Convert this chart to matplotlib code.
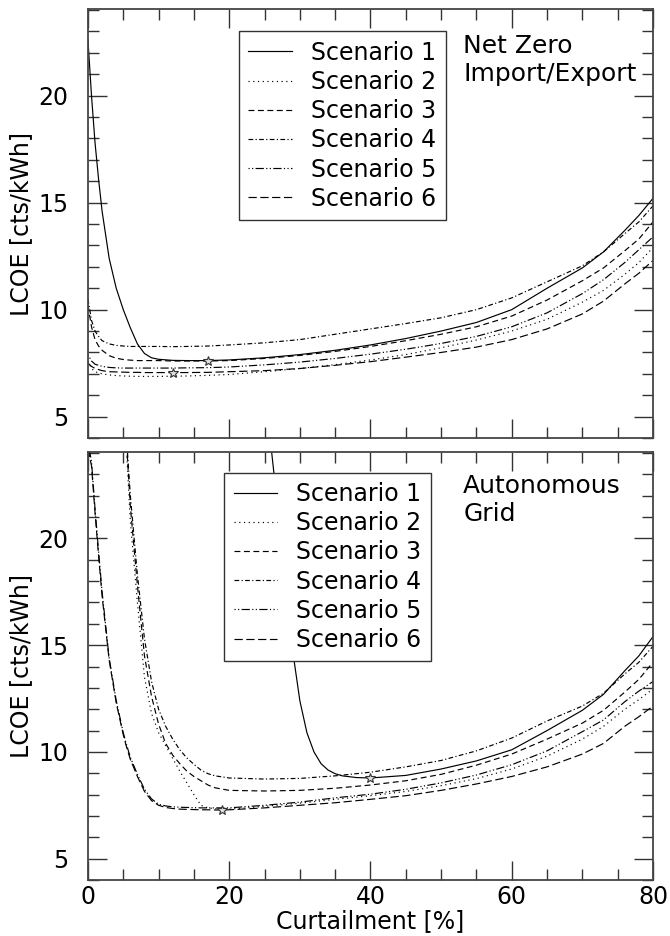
import numpy as np
import matplotlib.pyplot as plt
from matplotlib.ticker import MultipleLocator

# curtailment grid [%] for the upper panel (net zero import/export)
x_top = [0, 0.5, 1, 1.5, 2, 3, 4, 5, 6, 7, 8, 9, 10, 12, 14, 17, 20, 25, 30, 35,
         40, 45, 50, 55, 60, 65, 70, 73, 76, 78, 80]
top_s1 = [22.6, 20.0, 17.8, 16.1, 14.6, 12.4, 11.0, 10.0, 9.15, 8.4, 7.95, 7.75, 7.68, 7.63,
          7.62, 7.62, 7.65, 7.75, 7.9, 8.1, 8.35, 8.65, 9.0, 9.4, 10.0, 11.0, 11.95, 12.7,
          13.7, 14.4, 15.2]
top_s2 = [7.6, 7.25, 7.1, 7.05, 7.0, 6.95, 6.92, 6.9, 6.89, 6.88, 6.88, 6.88, 6.88, 6.89,
          6.9, 6.93, 6.97, 7.1, 7.25, 7.43, 7.65, 7.9, 8.22, 8.58, 9.0, 9.55, 10.35, 10.9,
          11.65, 12.2, 12.9]
top_s3 = [10.2, 9.2, 8.6, 8.3, 8.1, 7.85, 7.73, 7.67, 7.64, 7.62, 7.62, 7.62, 7.62, 7.6,
          7.6, 7.6, 7.62, 7.72, 7.86, 8.05, 8.28, 8.55, 8.85, 9.2, 9.7, 10.45, 11.35, 11.95,
          12.75, 13.3, 14.1]
top_s4 = [10.5, 9.5, 9.0, 8.75, 8.55, 8.4, 8.33, 8.3, 8.28, 8.28, 8.28, 8.28, 8.28, 8.27,
          8.28, 8.3, 8.35, 8.45, 8.6, 8.85, 9.1, 9.35, 9.62, 10.0, 10.55, 11.3, 12.05,
          12.7, 13.55, 14.1, 14.85]
top_s5 = [7.9, 7.6, 7.45, 7.4, 7.35, 7.3, 7.28, 7.27, 7.27, 7.27, 7.27, 7.27, 7.27, 7.27,
          7.28, 7.29, 7.32, 7.42, 7.55, 7.72, 7.92, 8.15, 8.42, 8.75, 9.2, 9.85, 10.75, 11.4,
          12.2, 12.8, 13.4]
top_s6 = [7.5, 7.35, 7.25, 7.2, 7.15, 7.1, 7.09, 7.08, 7.07, 7.07, 7.06, 7.06, 7.06, 7.06,
          7.06, 7.07, 7.1, 7.15, 7.25, 7.4, 7.57, 7.78, 8.0, 8.25, 8.6, 9.1, 9.8, 10.4,
          11.2, 11.7, 12.3]

# lower panel (autonomous grid)
x_bot = [0, 0.5, 1, 1.5, 2, 3, 4, 5, 5.4, 6, 7, 8, 9, 10, 11, 12, 13, 14, 15, 16, 17, 18,
         20, 25, 30, 35, 40, 45, 50, 55, 60, 65, 70, 73, 76, 78, 80]
nan = np.nan
bot_s2 = [nan] * 8 + [24.5, 20.8, 17.0, 13.5, 11.8, 10.9, 10.3, 9.7, 9.1, 8.55, 8.0, 7.5,
                      7.38, 7.34, 7.32, 7.45, 7.6, 7.78, 7.95, 8.15, 8.42, 8.75, 9.2, 9.8,
                      10.6, 11.2, 12.0, 12.45, 12.95]
bot_s3 = [nan] * 8 + [24.8, 21.5, 17.8, 14.5, 12.6, 11.3, 10.4, 9.85, 9.45, 9.1, 8.85, 8.65,
                      8.45, 8.32, 8.2, 8.17, 8.2, 8.3, 8.45, 8.65, 8.95, 9.38, 9.9, 10.6,
                      11.35, 11.95, 12.8, 13.4, 14.2]
bot_s4 = [nan] * 8 + [25.0, 22.0, 18.3, 15.3, 13.3, 12.0, 11.2, 10.6, 10.1, 9.72, 9.42, 9.15,
                      8.98, 8.88, 8.78, 8.73, 8.76, 8.88, 9.05, 9.3, 9.6, 10.05, 10.65, 11.45,
                      12.15, 12.75, 13.65, 14.2, 14.95]
bot_s5 = [24.5, 23.6, 21.4, 19.4, 17.5, 14.4, 12.4, 10.9, 10.4, 9.75, 8.95, 8.25, 7.8, 7.55,
          7.47, 7.43, 7.41, 7.4, 7.39, 7.38, 7.38, 7.38, 7.38, 7.5, 7.65, 7.85, 8.02, 8.25,
          8.55, 8.92, 9.4, 10.05, 10.95, 11.5, 12.35, 12.85, 13.3]
bot_s6 = [24.2, 23.4, 21.2, 19.2, 17.3, 14.3, 12.3, 10.8, 10.3, 9.65, 8.85, 8.15, 7.72, 7.5,
          7.4, 7.35, 7.32, 7.31, 7.3, 7.29, 7.29, 7.28, 7.29, 7.38, 7.5, 7.62, 7.78, 7.95,
          8.2, 8.5, 8.85, 9.3, 9.9, 10.4, 11.2, 11.65, 12.15]
x_bot_s1 = [25.5, 27, 28, 29, 30, 31, 32, 33, 34, 35, 36, 38, 40, 45, 50, 55, 60, 65, 70,
            73, 76, 78, 80]
bot_s1 = [25.6, 21.0, 17.9, 14.7, 12.4, 10.9, 10.0, 9.45, 9.15, 8.98, 8.88, 8.8, 8.78, 8.9,
          9.2, 9.58, 10.1, 11.0, 11.95, 12.7, 13.8, 14.5, 15.4]

# optimum markers
opt_top_x = [17, 12]
opt_top_y = [7.62, 7.06]
opt_bot_x = [40, 19]
opt_bot_y = [8.78, 7.29]

labels = ['Scenario 1', 'Scenario 2', 'Scenario 3', 'Scenario 4', 'Scenario 5', 'Scenario 6']
styles = ['-', (0, (1, 3)), (0, (5, 3)), (0, (4, 2, 1, 2)), (0, (1, 2, 1, 2, 7, 2)),
          (0, (7, 3))]

plt.rcParams['font.family'] = 'DejaVu Sans'
fs = 17

fig = plt.figure(figsize=(6.7, 9.36), dpi=100)
ax1 = fig.add_axes([0.1313, 0.532, 0.8433, 0.4584])
ax2 = fig.add_axes([0.1313, 0.0598, 0.8433, 0.4573])

top_series = [top_s1, top_s2, top_s3, top_s4, top_s5, top_s6]
for y, ls, lab in zip(top_series, styles, labels):
    ax1.plot(x_top, y, color='black', linestyle=ls, linewidth=0.85, label=lab)
ax1.plot(opt_top_x, opt_top_y, linestyle='none', marker='*', markersize=7,
         markerfacecolor='#dddddd', markeredgecolor='#333333', markeredgewidth=0.8)

bot_x = [x_bot_s1, x_bot, x_bot, x_bot, x_bot, x_bot]
bot_series = [bot_s1, bot_s2, bot_s3, bot_s4, bot_s5, bot_s6]
for x, y, ls, lab in zip(bot_x, bot_series, styles, labels):
    ax2.plot(x, y, color='black', linestyle=ls, linewidth=0.85, label=lab)
ax2.plot(opt_bot_x, opt_bot_y, linestyle='none', marker='*', markersize=7,
         markerfacecolor='#dddddd', markeredgecolor='#333333', markeredgewidth=0.8)

for ax in (ax1, ax2):
    ax.set_xlim(0, 80)
    ax.set_ylim(4, 24.05)
    ax.xaxis.set_major_locator(MultipleLocator(20))
    ax.xaxis.set_minor_locator(MultipleLocator(5))
    ax.yaxis.set_major_locator(MultipleLocator(5))
    ax.yaxis.set_minor_locator(MultipleLocator(1))
    ax.tick_params(which='both', direction='in', top=True, right=True, labelsize=fs,
                   color='#333333')
    ax.tick_params(which='major', length=14, width=1)
    ax.tick_params(which='minor', length=8, width=1)
    ax.tick_params(axis='y', pad=14)
    for sp in ax.spines.values():
        sp.set_color('#444444')
        sp.set_linewidth(1.3)
    ax.set_ylabel('LCOE [cts/kWh]', fontsize=fs, labelpad=4)

ax1.tick_params(labelbottom=False)
ax2.set_xlabel('Curtailment [%]', fontsize=fs, labelpad=0)

legend_kw = dict(loc='upper left', fancybox=False, edgecolor='#333333', framealpha=1,
                 fontsize=fs, labelspacing=0.22, handlelength=1.85, borderaxespad=0)
ax1.legend(bbox_to_anchor=(0.267, 0.948), **legend_kw)
ax2.legend(bbox_to_anchor=(0.241, 0.952), **legend_kw)

ax1.text(0.664, 0.942, 'Net Zero\nImport/Export', transform=ax1.transAxes,
         ha='left', va='top', fontsize=18, linespacing=1.2)
ax2.text(0.664, 0.948, 'Autonomous\nGrid', transform=ax2.transAxes,
         ha='left', va='top', fontsize=18, linespacing=1.2)

fig.savefig('out.png', dpi=100)
